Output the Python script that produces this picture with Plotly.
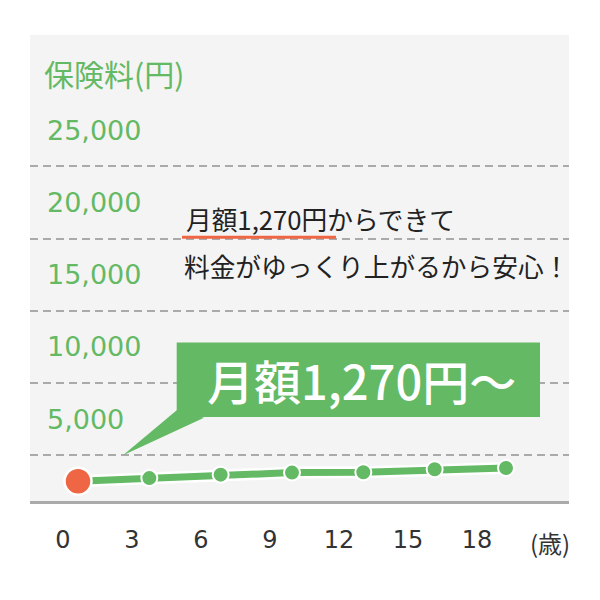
import plotly.graph_objects as go

# ---- data ----
ages = [0, 3, 6, 9, 12, 15, 18]
premium = [3190, 3410, 3650, 3790, 3810, 4020, 4110]
y_ticks = [5000, 10000, 15000, 20000, 25000]
y_ticktext = ["5,000", "10,000", "15,000", "20,000", "25,000"]
x_ticktext = ["0", "3", "6", "9", "12", "15", "18"]
y_title = "保険料(円)"
x_unit = "(歳)"
note_line1 = "月額1,270円からできて"
note_line2 = "料金がゆっくり上がるから安心！"
callout = "月額1,270円〜"

GREEN = "#64b964"
RED = "#ee6644"
JP = "Noto Sans CJK JP"

OFF = 8  # page body margin
W, H = 592, 592
# plot area in page pixels: x 30..569, y 35..500.7
PL, PR, PT, PB = 30, 569, 35, 500.7
L, R, T, B = PL - OFF, OFF + W - PR, PT - OFF, OFF + H - PB


def px(xp):
    return (xp - PL) / (PR - PL)


def py(yp):
    return (PB - yp) / (PB - PT)


Y_RANGE = [1823, 34105]

fig = go.Figure()
# white halo under line
fig.add_trace(go.Scatter(x=ages, y=premium, mode="lines",
                         line=dict(color="white", width=12), hoverinfo="skip"))
fig.add_trace(go.Scatter(x=ages, y=premium, mode="lines+markers",
                         line=dict(color=GREEN, width=7),
                         marker=dict(size=16, color=GREEN, line=dict(color="white", width=2))))
fig.add_trace(go.Scatter(x=ages[:1], y=premium[:1], mode="markers",
                         marker=dict(size=27, color=RED, line=dict(color="white", width=2.5))))
# invisible trace carrying the age tick-label axis
fig.add_trace(go.Scatter(x=ages, y=premium, xaxis="x2", yaxis="y2", mode="markers",
                         marker=dict(opacity=0), hoverinfo="skip"))

shapes = [
    dict(type="rect", xref="paper", yref="paper",
         x0=px(176.7), x1=px(540), y0=py(416.7), y1=py(342.3),
         fillcolor=GREEN, line=dict(width=0), layer="above"),
    dict(type="path", xref="paper", yref="paper",
         path=f"M {px(176.7)},{py(410)} L {px(204)},{py(417.5)} L {px(123)},{py(455)} Z",
         fillcolor=GREEN, line=dict(width=0), layer="above"),
    dict(type="line", xref="paper", yref="paper",
         x0=px(182), x1=px(336), y0=py(237), y1=py(237),
         line=dict(color=RED, width=3), layer="above"),
]

annotations = [
    dict(text=y_title, xref="paper", yref="paper", x=px(42), y=py(73),
         xanchor="left", yanchor="middle", showarrow=False,
         font=dict(family=JP, size=30, color=GREEN)),
    dict(text=x_unit, xref="paper", yref="paper", x=px(550), y=py(542),
         xanchor="center", yanchor="middle", showarrow=False,
         font=dict(family=JP, size=24, color="#333")),
    dict(text=note_line1, xref="paper", yref="paper", x=px(184), y=py(218),
         xanchor="left", yanchor="middle", showarrow=False,
         font=dict(family=JP, size=25.7, color="#222")),
    dict(text=note_line2, xref="paper", yref="paper", x=px(182), y=py(265),
         xanchor="left", yanchor="middle", showarrow=False,
         font=dict(family=JP, size=25.7, color="#222")),
    dict(text=callout, xref="paper", yref="paper", x=px(361), y=py(379),
         xanchor="center", yanchor="middle", showarrow=False,
         font=dict(family=JP, size=47, color="white", weight=500)),
]

# x axis for points: 0 -> 78 px, 18 -> 506 px
k = (506 - 78) / 18
x_range = [-(78 - PL) / k, 18 + (PR - 506) / k]
# x axis for labels: 0 -> 63 px, slope 23.0 px/yr
k2 = 23.0
x2_range = [-(63 - PL) / k2, (PR - 63) / k2]

fig.update_layout(
    width=W, height=H,
    margin=dict(l=L, r=R, t=T, b=B),
    paper_bgcolor="white", plot_bgcolor="#f4f4f4",
    showlegend=False,
    shapes=shapes, annotations=annotations,
    xaxis=dict(range=x_range, showticklabels=False,
               showgrid=False, zeroline=False, showline=True,
               linecolor="#aaaaaa", linewidth=3, ticks=""),
    xaxis2=dict(range=x2_range, overlaying="x", anchor="y2", side="bottom",
                tickvals=ages, ticktext=x_ticktext,
                showgrid=False, zeroline=False, showline=False, ticks="",
                ticklabelstandoff=22,
                tickfont=dict(family="DejaVu Sans", size=24, color="#333")),
    yaxis=dict(range=Y_RANGE, tickvals=y_ticks, ticktext=y_ticktext,
               showgrid=True, gridcolor="#aaaaaa", gridwidth=1.5,
               griddash="8px,5px", zeroline=False, showline=False, ticks="",
               ticklabelposition="inside", ticklabelshift=-36,
               ticklabelstandoff=14,
               tickfont=dict(family="DejaVu Sans", size=27, color=GREEN)),
    yaxis2=dict(range=Y_RANGE, overlaying="y", anchor="x", showgrid=False,
                zeroline=False, showticklabels=False, ticks="", showline=False),
)

fig.write_html("out.html")
